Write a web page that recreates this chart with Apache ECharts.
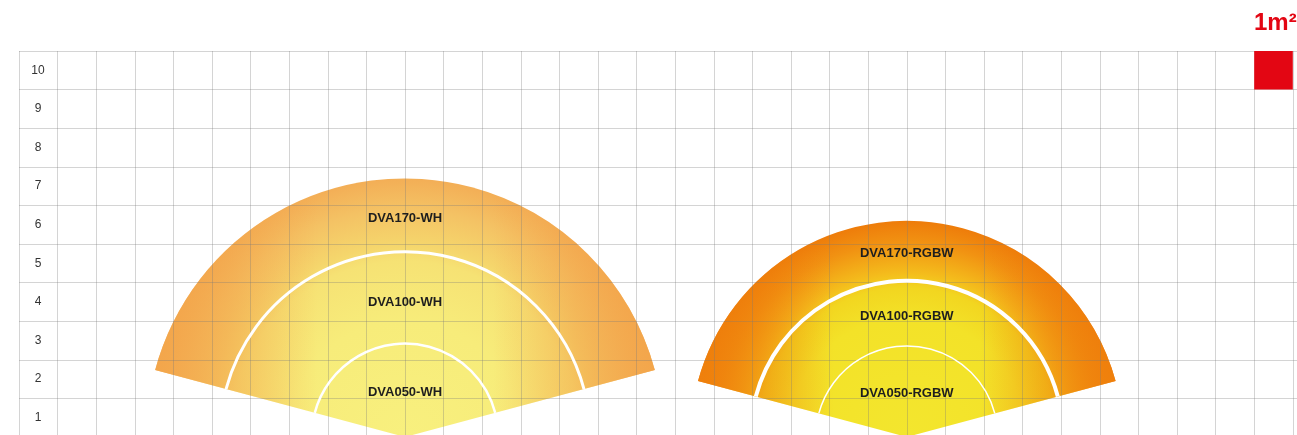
<!DOCTYPE html>
<html>
<head>
<meta charset="utf-8">
<script src="https://cdn.jsdelivr.net/npm/echarts@6/dist/echarts.min.js"></script>
<style>
html,body{margin:0;padding:0;background:#fff;}
#c{width:1297px;height:435px;}
</style>
</head>
<body>
<div id="c"></div>
<script>
// ---- data ----
const yLabels = ['1','2','3','4','5','6','7','8','9','10'];
const fanCenters = [10, 23];
const whRadii = [2.42, 4.8, 6.7];
const rgbwRadii = [2.36, 4.05, 5.6];
const whNames = ['DVA050-WH', 'DVA100-WH', 'DVA170-WH'];
const rgbwNames = ['DVA050-RGBW', 'DVA100-RGBW', 'DVA170-RGBW'];
const beamAngle = 150;
const scaleCell = [32, 9];
const scaleText = '1m\u00B2';

// ---- layout / style ----
const CELL = 38.6;
const GRID = 'rgba(120,120,120,0.32)';
const FONT = '"Liberation Sans", Arial, sans-serif';
const labelFrac = [0.48, 0.45, 0.45];
const fanStyles = [
  { radial: [[0,'#f8f07e'],[0.45,'#f7ec7a'],[0.68,'#f6e274'],[0.74,'#f5d66c'],[0.88,'#f4c264'],[1,'#f3ae56']],
    side: '243,165,74', arc100: 3, arc50: 2.5 },
  { radial: [[0,'#f3e62e'],[0.55,'#f3e228'],[0.69,'#f2d620'],[0.76,'#f4bc1c'],[0.9,'#f19212'],[1,'#ee7c0a']],
    side: '239,128,12', arc100: 4, arc50: 1.5 }
];
const fanData = [
  [fanCenters[0]].concat(whRadii),
  [fanCenters[1]].concat(rgbwRadii)
];
const fanNames = [whNames, rgbwNames];

const half = beamAngle / 2;
const A0 = -(90 + half) * Math.PI / 180;
const A1 = -(90 - half) * Math.PI / 180;

function stops(list) { return list.map(s => ({offset: s[0], color: s[1]})); }

function renderFill(params, api) {
  const st = fanStyles[params.dataIndex];
  const c = api.coord([api.value(0), 0]);
  const R = api.size([api.value(3), 0])[0];
  const sideStops = [
    {offset:0, color:'rgba(' + st.side + ',0.95)'},
    {offset:0.17, color:'rgba(' + st.side + ',0.5)'},
    {offset:0.33, color:'rgba(' + st.side + ',0)'},
    {offset:0.67, color:'rgba(' + st.side + ',0)'},
    {offset:0.83, color:'rgba(' + st.side + ',0.5)'},
    {offset:1, color:'rgba(' + st.side + ',0.95)'}
  ];
  return {
    type: 'group',
    children: [
      { type: 'sector',
        shape: {cx: c[0], cy: c[1], r0: 0, r: R, startAngle: A0, endAngle: A1, clockwise: true},
        style: {fill: {type:'radial', x: c[0], y: c[1], r: R, global: true, colorStops: stops(st.radial)}} },
      { type: 'sector',
        shape: {cx: c[0], cy: c[1], r0: 0, r: R, startAngle: A0, endAngle: A1, clockwise: true},
        style: {fill: {type:'linear', x: c[0] - R, y: 0, x2: c[0] + R, y2: 0, global: true, colorStops: sideStops}} }
    ]
  };
}

function renderOverlay(params, api) {
  const st = fanStyles[params.dataIndex];
  const names = fanNames[params.dataIndex];
  const cxv = api.value(0);
  const c = api.coord([cxv, 0]);
  const r = [api.value(1), api.value(2), api.value(3)];
  const px = r.map(v => api.size([v, 0])[0]);
  const children = [
    { type: 'arc', shape: {cx: c[0], cy: c[1], r: px[1], startAngle: A0, endAngle: A1, clockwise: true},
      style: {stroke: '#fff', fill: null, lineWidth: st.arc100} },
    { type: 'arc', shape: {cx: c[0], cy: c[1], r: px[0], startAngle: A0, endAngle: A1, clockwise: true},
      style: {stroke: '#fff', fill: null, lineWidth: st.arc50} }
  ];
  const inner = [0, r[0], r[1]];
  for (let i = 0; i < 3; i++) {
    const p = api.coord([cxv, inner[i] + labelFrac[i] * (r[i] - inner[i])]);
    children.push({
      type: 'text',
      style: {text: names[i], x: p[0], y: p[1], align: 'center', verticalAlign: 'middle',
              font: 'bold 13px ' + FONT, fill: '#1e1e1e'}
    });
  }
  return {type: 'group', children: children};
}

function renderSquare(params, api) {
  const p = api.coord([api.value(0), api.value(1) + 1]);
  const s = api.size([1, 1]);
  return {type: 'rect', shape: {x: p[0], y: p[1], width: s[0], height: s[1]}, style: {fill: '#e30613'}};
}

const chart = echarts.init(document.getElementById('c'), null, {renderer: 'canvas'});
chart.setOption({
  animation: false,
  backgroundColor: '#ffffff',
  title: {
    text: scaleText, left: 1254, top: 11, padding: 0,
    textStyle: {color: '#e30613', fontSize: 24, fontWeight: 'bold', fontFamily: FONT}
  },
  grid: {left: 19, top: 51, width: 34 * CELL, height: 10 * CELL, containLabel: false, outerBoundsMode: 'none'},
  xAxis: {
    type: 'value', min: 0, max: 34, interval: 1, z: 5,
    axisLine: {show: false}, axisTick: {show: false}, axisLabel: {show: false},
    splitLine: {show: true, lineStyle: {color: GRID, width: 1}}
  },
  yAxis: [
    { type: 'value', min: 0, max: 10, interval: 1, z: 5,
      axisLine: {show: false}, axisTick: {show: false}, axisLabel: {show: false},
      splitLine: {show: true, lineStyle: {color: GRID, width: 1}} },
    { type: 'category', data: yLabels, position: 'left', boundaryGap: true, z: 5,
      axisLine: {show: false}, axisTick: {show: false}, splitLine: {show: false},
      axisLabel: {inside: true, margin: 19, align: 'center', color: '#333', fontSize: 12, fontFamily: FONT} }
  ],
  series: [
    { type: 'custom', coordinateSystem: 'cartesian2d', xAxisIndex: 0, yAxisIndex: 0, z: 1,
      clip: false, silent: true, renderItem: renderFill, data: fanData },
    { type: 'custom', coordinateSystem: 'cartesian2d', xAxisIndex: 0, yAxisIndex: 0, z: 8,
      clip: false, silent: true, renderItem: renderOverlay, data: fanData },
    { type: 'custom', coordinateSystem: 'cartesian2d', xAxisIndex: 0, yAxisIndex: 0, z: 9,
      clip: false, silent: true, renderItem: renderSquare, data: [scaleCell] }
  ]
});
</script>
</body>
</html>
